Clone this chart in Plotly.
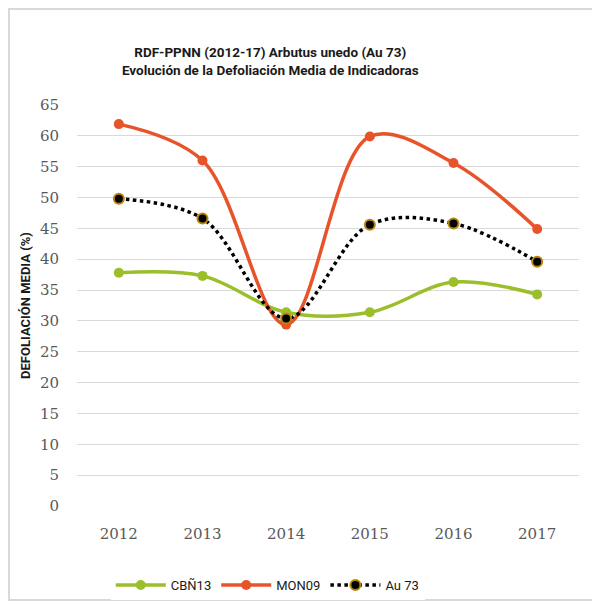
import plotly.graph_objects as go

years = ['2012', '2013', '2014', '2015', '2016', '2017']
cbn13 = [37.8, 37.3, 31.4, 31.4, 36.3, 34.3]
mon09 = [61.9, 56.0, 29.4, 59.9, 55.6, 44.9]
au73 = [49.8, 46.6, 30.4, 45.6, 45.8, 39.6]

green = '#9bbf2a'
orange = '#e8542a'

fig = go.Figure()

fig.add_trace(go.Scatter(
    x=years, y=cbn13, name='CBÑ13',
    mode='lines+markers',
    line=dict(color=green, width=3.5, shape='spline', smoothing=1),
    marker=dict(size=10, color=green),
))
fig.add_trace(go.Scatter(
    x=years, y=mon09, name='MON09',
    mode='lines+markers',
    line=dict(color=orange, width=3.5, shape='spline', smoothing=1),
    marker=dict(size=10, color=orange),
))
fig.add_trace(go.Scatter(
    x=years, y=au73, name='Au 73',
    mode='lines+markers',
    line=dict(color='black', width=3.5, dash='dot', shape='spline', smoothing=1),
    marker=dict(size=10, color='black', line=dict(color='#b8860b', width=2)),
))

tick_font = dict(family='DejaVu Serif', size=15, color='#595959')
label_font = 'Roboto'

# page body keeps its default 8px margin, so the figure starts at (8, 8);
# extra height at the bottom keeps the legend from pushing the margin
fig.update_layout(
    width=592, height=612,
    margin=dict(l=69, r=21, t=97, b=114),
    paper_bgcolor='white', plot_bgcolor='white',
    font=dict(family=label_font, size=13, color='#595959'),
    title=dict(
        text='<b>RDF-PPNN (2012-17) Arbutus unedo (Au 73)<br>Evolución de la Defoliación Media de Indicadoras</b>',
        x=0.443, xanchor='center', y=1 - 49 / 612, yanchor='middle',
        font=dict(family=label_font, size=13.5, color='#1a1a1a'),
    ),
    xaxis=dict(
        type='category', range=[-0.5, 5.5], automargin=False,
        showgrid=False, showline=False,
        ticks='outside', ticklen=14, tickcolor='rgba(0,0,0,0)',
        tickfont=tick_font,
    ),
    yaxis=dict(
        range=[0, 65], dtick=5, tick0=0, automargin=False,
        showgrid=True, gridcolor='#d9d9d9', gridwidth=1,
        zeroline=False, showline=False,
        ticks='outside', ticklen=14, tickcolor='rgba(0,0,0,0)',
        tickfont=tick_font,
        title=dict(text='<b>DEFOLIACIÓN MEDIA (%)</b>', standoff=6,
                   font=dict(family=label_font, size=13, color='#1a1a1a')),
    ),
    legend=dict(
        orientation='h', x=0.38, xanchor='center', y=-0.197, yanchor='middle',
        font=dict(family=label_font, size=13, color='#1a1a1a'),
        itemwidth=50,
    ),
    shapes=[dict(
        type='rect', xref='paper', yref='paper',
        x0=-68 / 502, x1=1 + 18 / 502, y0=-94 / 401, y1=1 + 96 / 401,
        line=dict(color='#d9d9d9', width=2),
    )],
)

fig.write_html('out.html')
